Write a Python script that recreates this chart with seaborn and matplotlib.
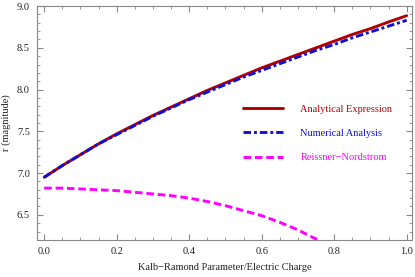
import matplotlib
matplotlib.use("Agg")
import matplotlib.pyplot as plt
from matplotlib.ticker import MultipleLocator, FormatStrFormatter
import pandas as pd
import seaborn as sns

# values (every 0.05)
x_vals = [0.0, 0.05, 0.1, 0.15, 0.2, 0.25, 0.3, 0.35, 0.4, 0.45, 0.5,
          0.55, 0.6, 0.65, 0.7, 0.75, 0.8, 0.85, 0.9, 0.95, 1.0]
analytical = [6.95, 7.09, 7.22, 7.35, 7.47, 7.58, 7.69, 7.79, 7.89, 7.99, 8.08,
              8.17, 8.26, 8.34, 8.42, 8.50, 8.58, 8.66, 8.73, 8.81, 8.885]
numerical = [6.95, 7.09, 7.22, 7.35, 7.46, 7.57, 7.68, 7.78, 7.88, 7.97, 8.06,
             8.15, 8.23, 8.31, 8.39, 8.47, 8.54, 8.62, 8.69, 8.76, 8.83]
rn_x = [0.0, 0.05, 0.1, 0.15, 0.2, 0.25, 0.3, 0.35, 0.4, 0.45, 0.5,
        0.55, 0.6, 0.65, 0.7, 0.75, 0.8]
reissner = [6.82, 6.82, 6.81, 6.80, 6.79, 6.77, 6.75, 6.73, 6.70, 6.66, 6.61,
            6.55, 6.49, 6.41, 6.32, 6.21, 6.10]

labels = ["Analytical Expression", "Numerical Analysis", "Reissner\u2212Nordstrom"]
colors = ["#B00000", "#1010D0", "#FF00FF"]

sns.set_style("ticks")
plt.rcParams["font.family"] = ["Liberation Serif", "DejaVu Serif"]

df_a = pd.DataFrame({"x": x_vals, "r": analytical})
df_n = pd.DataFrame({"x": x_vals, "r": numerical})
df_rn = pd.DataFrame({"x": rn_x, "r": reissner})

fig = plt.figure(figsize=(4.15, 2.77), dpi=100)
ax = fig.add_axes([0.089, 0.134, 0.904, 0.844])

sns.lineplot(data=df_a, x="x", y="r", ax=ax, color=colors[0], lw=2.1,
             label=labels[0])
sns.lineplot(data=df_n, x="x", y="r", ax=ax, color=colors[1], lw=2.1,
             label=labels[1])
ax.lines[-1].set_dashes([2.6, 1.0, 1.0, 1.0])
sns.lineplot(data=df_rn, x="x", y="r", ax=ax, color=colors[2], lw=2.1,
             label=labels[2])
ax.lines[-1].set_dashes([2.6, 1.3])

ax.set_xlim(-0.02, 1.015)
ax.set_ylim(6.2, 9.0)
ax.xaxis.set_major_locator(MultipleLocator(0.2))
ax.xaxis.set_minor_locator(MultipleLocator(0.05))
ax.yaxis.set_major_locator(MultipleLocator(0.5))
ax.yaxis.set_minor_locator(MultipleLocator(0.1))
ax.xaxis.set_major_formatter(FormatStrFormatter("%.1f"))
ax.yaxis.set_major_formatter(FormatStrFormatter("%.1f"))

for s in ax.spines.values():
    s.set_color("#888888")
    s.set_linewidth(0.8)
ax.tick_params(which="both", direction="in", top=True, right=True,
               color="#888888", labelsize=7.5, labelcolor="#222222")
ax.tick_params(which="major", length=4, width=0.8, pad=5)
ax.tick_params(which="minor", length=2, width=0.6)

ax.set_xlabel("Kalb\u2212Ramond Parameter/Electric Charge", fontsize=7.5,
              color="#222222", labelpad=5)
ax.set_ylabel("r (magnitude)", fontsize=7.5, color="#222222", labelpad=4)

leg = ax.legend(loc="upper left", bbox_to_anchor=(0.523, 0.62), frameon=False,
                fontsize=7.5, handlelength=3.85, handletextpad=1.7,
                labelspacing=1.45)
for txt, c in zip(leg.get_texts(), colors):
    txt.set_color(c)

fig.savefig("out.png", dpi=100)
plt.close(fig)
